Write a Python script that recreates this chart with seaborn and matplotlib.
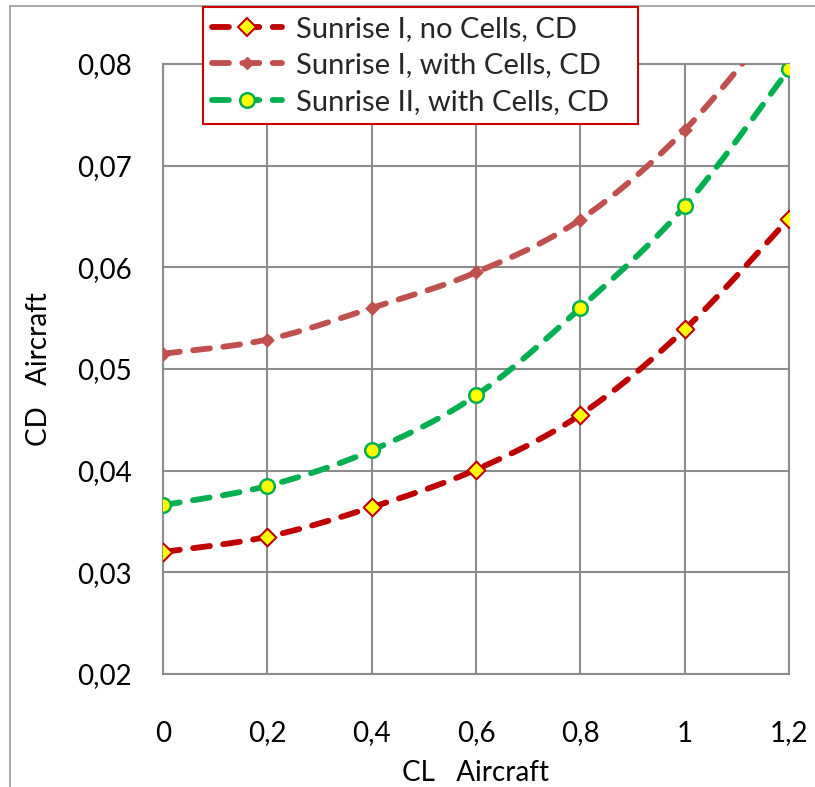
import numpy as np
import pandas as pd
import matplotlib
matplotlib.use("Agg")
import matplotlib.pyplot as plt
from matplotlib.lines import Line2D
from matplotlib.patches import Rectangle
import seaborn as sns

# Drag polar data: aircraft drag coefficient vs. lift coefficient
cl = [0.0, 0.2, 0.4, 0.6, 0.8, 1.0, 1.2]
cd_sunrise1_no_cells = [0.0320, 0.0335, 0.0364, 0.0401, 0.0455, 0.0539, 0.0648]
cd_sunrise1_cells = [0.0515, 0.0529, 0.0560, 0.0595, 0.0647, 0.0735, 0.0857]
cd_sunrise2_cells = [0.0366, 0.0385, 0.0420, 0.0474, 0.0560, 0.0660, 0.0795]

series_names = ["Sunrise I, no Cells, CD",
                "Sunrise I, with Cells, CD",
                "Sunrise II, with Cells, CD"]

x_ticks = [0.0, 0.2, 0.4, 0.6, 0.8, 1.0, 1.2]
x_tick_labels = ["0", "0,2", "0,4", "0,6", "0,8", "1", "1,2"]
y_ticks = [0.02, 0.03, 0.04, 0.05, 0.06, 0.07, 0.08]
y_tick_labels = ["0,02", "0,03", "0,04", "0,05", "0,06", "0,07", "0,08"]

x_label = "CL   Aircraft"
y_label = "CD   Aircraft"

sns.set_theme(style="white")
plt.rcParams["font.family"] = ["Lato", "DejaVu Sans"]

W, H = 815, 787
fig = plt.figure(figsize=(W / 100, H / 100), dpi=100)
ax = fig.add_axes([163 / W, 1 - 674 / H, (789 - 163) / W, (674 - 64) / H])
ax.set_zorder(0)


def smooth_curve(x, y, n=40):
    """Cubic Bezier smoothing through every point (Catmull-Rom style)."""
    x = np.asarray(x, float)
    y = np.asarray(y, float)
    px = np.concatenate([[x[0]], x, [x[-1]]])
    py = np.concatenate([[y[0]], y, [y[-1]]])
    t = np.linspace(0, 1, n)[:, None]
    pts = []
    for i in range(len(x) - 1):
        p0 = np.array([px[i], py[i]])
        p1 = np.array([px[i + 1], py[i + 1]])
        p2 = np.array([px[i + 2], py[i + 2]])
        p3 = np.array([px[i + 3], py[i + 3]])
        c1 = p1 + (p2 - p0) / 6
        c2 = p2 - (p3 - p1) / 6
        seg = ((1 - t) ** 3) * p1 + 3 * ((1 - t) ** 2) * t * c1 \
            + 3 * (1 - t) * t ** 2 * c2 + t ** 3 * p2
        pts.append(seg if i == 0 else seg[1:])
    pts = np.vstack(pts)
    return pts[:, 0], pts[:, 1]


styles = [
    dict(color="#C00000", marker="D", mfc="#FFFF00", mec="#C00000", ms=9, mew=1.5),
    dict(color="#C0504D", marker="D", mfc="#C0504D", mec="#C0504D", ms=6.5, mew=1.0),
    dict(color="#00B050", marker="o", mfc="#FFFF00", mec="#00B050", ms=10.5, mew=1.8),
]
all_values = [cd_sunrise1_no_cells, cd_sunrise1_cells, cd_sunrise2_cells]

LW = 4.2
DASH = (0, (2.9, 2.3))

for name, values, st in zip(series_names, all_values, styles):
    sx, sy = smooth_curve(cl, values)
    curve = pd.DataFrame({"CL": sx, "CD": sy})
    sns.lineplot(data=curve, x="CL", y="CD", ax=ax, sort=False, estimator=None,
                 color=st["color"], lw=LW, linestyle=DASH,
                 dash_capstyle="round", zorder=3)
    pts = pd.DataFrame({"CL": cl, "CD": values})
    sns.scatterplot(data=pts, x="CL", y="CD", ax=ax, marker=st["marker"],
                    s=st["ms"] ** 2, facecolor=st["mfc"], edgecolor=st["mec"],
                    linewidth=st["mew"], zorder=4, legend=False)

ax.set_xlim(0, 1.2)
ax.set_ylim(0.02, 0.08)
ax.set_xticks(x_ticks)
ax.set_xticklabels(x_tick_labels)
ax.set_yticks(y_ticks)
ax.set_yticklabels(y_tick_labels)

grid_c = "#8c8c8c"
ax.grid(True, color=grid_c, lw=1.5)
ax.set_axisbelow(True)
for sp in ax.spines.values():
    sp.set_color(grid_c)
    sp.set_linewidth(1.5)

ax.tick_params(axis="both", direction="out", length=6.5, width=1.5,
               color=grid_c, labelsize=20, labelcolor="black")
ax.tick_params(axis="x", pad=27)
ax.tick_params(axis="y", pad=16)

ax.set_xlabel(x_label, fontsize=20, color="black", labelpad=10)
ax.set_ylabel(y_label, fontsize=20, color="black", labelpad=18)

# Outer chart-area frame
fig.patches.append(Rectangle((10 / W, -0.1), 1.2, 1 - 6 / H + 0.1,
                             transform=fig.transFigure, fill=False,
                             edgecolor="#9a9a9a", lw=1.2, zorder=-1))

# Legend box (white, red border) sitting over the plot's top edge
fig.patches.append(Rectangle((203 / W, 1 - 124 / H), (638 - 203) / W,
                             (124 - 7) / H, transform=fig.transFigure,
                             facecolor="white", edgecolor="#CC0000", lw=1.5,
                             zorder=5))

handles = [Line2D([], [], color=st["color"], lw=LW, linestyle=DASH,
                  dash_capstyle="round", marker=st["marker"],
                  markerfacecolor=st["mfc"], markeredgecolor=st["mec"],
                  markersize=st["ms"], markeredgewidth=st["mew"])
           for st in styles]
leg = fig.legend(handles, series_names, loc="upper left",
                 bbox_to_anchor=(203 / W, 1 - 7 / H),
                 bbox_transform=fig.transFigure, borderaxespad=0,
                 fontsize=21, frameon=False, handlelength=2.4,
                 handletextpad=0.5, labelspacing=0.36, borderpad=0.3)
leg.set_zorder(10)

fig.savefig("out.png", dpi=100)
